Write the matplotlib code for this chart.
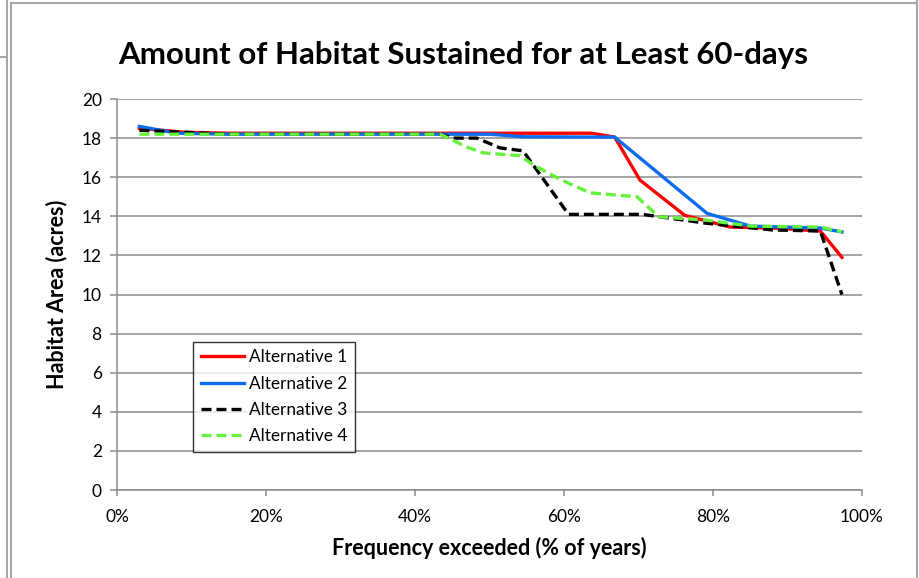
import numpy as np
import matplotlib
matplotlib.use('Agg')
import matplotlib.pyplot as plt
from matplotlib.lines import Line2D

plt.rcParams['font.family'] = ['Lato', 'DejaVu Sans']

# Frequency exceeded (%) / habitat area (acres)
x_alt1 = [3, 9, 15, 63.7, 66.8, 70.2, 76.2, 82.3, 88, 94.4, 97.3]
y_alt1 = [18.5, 18.3, 18.25, 18.25, 18.05, 15.85, 14.05, 13.45, 13.4, 13.25, 11.9]

x_alt2 = [3, 8, 15, 50, 54.5, 66.8, 79.2, 85, 94.4, 97.3]
y_alt2 = [18.6, 18.25, 18.2, 18.2, 18.07, 18.05, 14.15, 13.5, 13.4, 13.2]

x_alt3 = [3, 9, 15, 43.4, 45.1, 48.3, 51.4, 54.5, 60.6, 70.5, 79, 88, 94.4, 97.3]
y_alt3 = [18.4, 18.3, 18.2, 18.2, 18.0, 18.0, 17.5, 17.35, 14.1, 14.1, 13.65, 13.3, 13.25, 10.0]

x_alt4 = [3, 43.4, 46.9, 49.1, 54.1, 56.0, 59.7, 63.5, 69.8, 72.7, 79.2, 85, 94.4, 97.3]
y_alt4 = [18.2, 18.2, 17.55, 17.25, 17.1, 16.6, 15.85, 15.2, 15.0, 13.98, 13.8, 13.5, 13.45, 13.2]

labels = ['Alternative 1', 'Alternative 2', 'Alternative 3', 'Alternative 4']

fig = plt.figure(figsize=(9.2, 5.78), dpi=100)
ax = fig.add_axes([0.1272, 0.1522, 0.8098, 0.6765])

lw = 2.4
ax.plot(x_alt1, y_alt1, color='#ff0000', lw=lw, label=labels[0], zorder=3)
ax.plot(x_alt2, y_alt2, color='#0a6cf0', lw=lw, label=labels[1], zorder=4)
ax.plot(x_alt3, y_alt3, color='black', lw=lw, ls=(0, (3, 1.5)), label=labels[2], zorder=5)
ax.plot(x_alt4, y_alt4, color='#66f23c', lw=lw, ls=(0, (3, 1.5)), label=labels[3], zorder=6)

ax.set_xlim(0, 100)
ax.set_ylim(0, 20)
ax.set_xticks(np.arange(0, 101, 20))
ax.set_xticklabels(['%d%%' % v for v in range(0, 101, 20)])
ax.set_yticks(np.arange(0, 21, 2))
ax.yaxis.grid(True, color='#8c8c8c', lw=1.1)
ax.set_axisbelow(True)
for s in ['top', 'right']:
    ax.spines[s].set_visible(False)
for s in ['left', 'bottom']:
    ax.spines[s].set_color('#8c8c8c')
    ax.spines[s].set_linewidth(1.1)
ax.tick_params(axis='y', length=5, width=1.1, color='#8c8c8c', pad=6, labelsize=12.5)
ax.tick_params(axis='x', length=4, width=1.1, color='#8c8c8c', pad=10, labelsize=12.5)

ax.set_xlabel('Frequency exceeded (% of years)', fontsize=15.5, fontweight='bold', labelpad=8)
ax.set_ylabel('Habitat Area (acres)', fontsize=15.5, fontweight='bold', labelpad=10)

leg = ax.legend(loc='lower left', bbox_to_anchor=(0.102, 0.097), fontsize=12.4,
                frameon=True, fancybox=False, edgecolor='black', handlelength=2.5,
                borderpad=0.45, labelspacing=0.6, handletextpad=0.3, borderaxespad=0)
leg.get_frame().set_linewidth(1.0)

fig.text(0.503, 0.905, 'Amount of Habitat Sustained for at Least 60-days',
         ha='center', va='center', fontsize=22.5, fontweight='bold')

# surrounding chart border lines
bc = '#a6a6a6'
def px_line(xs, ys):
    fig.add_artist(Line2D([x / 920 for x in xs], [1 - y / 578 for y in ys],
                          color=bc, lw=1.5, transform=fig.transFigure))
px_line([11, 11], [3, 578])
px_line([11, 917], [3, 3])
px_line([917, 917], [0, 578])
px_line([7, 7], [0, 578])
px_line([0, 7], [57, 57])

fig.savefig('out.png', dpi=100)
